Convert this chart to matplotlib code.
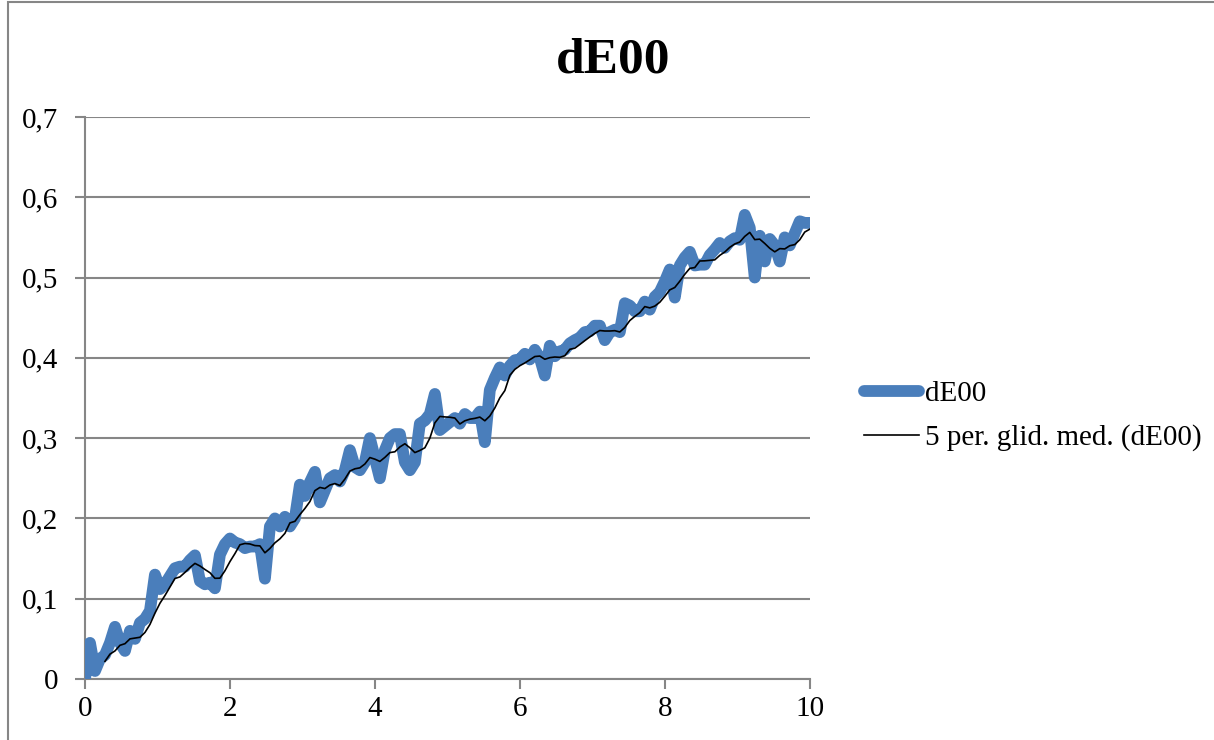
import numpy as np
import pandas as pd
import matplotlib
matplotlib.use("Agg")
import matplotlib.pyplot as plt
from matplotlib.patches import Rectangle

# -------------------------------------------
# data (x step ~0.069, 146 points)
# -------------------------------------------
n_points = 146
x_step = 10 / (n_points - 1)

de00 = [
    0.000, 0.045, 0.010, 0.025, 0.030, 0.045, 0.065, 0.045, 0.035, 0.060,
    0.050, 0.070, 0.075, 0.085, 0.130, 0.112, 0.118, 0.128, 0.138, 0.140,
    0.140, 0.148, 0.154, 0.122, 0.118, 0.120, 0.113, 0.155, 0.168, 0.175,
    0.170, 0.168, 0.163, 0.165, 0.165, 0.168, 0.125, 0.190, 0.200, 0.190,
    0.202, 0.190, 0.200, 0.242, 0.228, 0.245, 0.258, 0.220, 0.235, 0.250,
    0.254, 0.246, 0.260, 0.285, 0.264, 0.260, 0.270, 0.300, 0.275, 0.250,
    0.285, 0.300, 0.305, 0.305, 0.270, 0.260, 0.270, 0.318, 0.322, 0.330,
    0.355, 0.310, 0.315, 0.320, 0.325, 0.318, 0.330, 0.325, 0.325, 0.333,
    0.295, 0.360, 0.375, 0.388, 0.378, 0.390, 0.397, 0.398, 0.405, 0.398,
    0.410, 0.400, 0.378, 0.415, 0.402, 0.408, 0.410, 0.418, 0.422, 0.425,
    0.432, 0.433, 0.440, 0.440, 0.422, 0.432, 0.435, 0.432, 0.468, 0.465,
    0.458, 0.458, 0.470, 0.460, 0.476, 0.482, 0.495, 0.510, 0.475, 0.515,
    0.525, 0.532, 0.515, 0.516, 0.516, 0.528, 0.535, 0.543, 0.537, 0.545,
    0.549, 0.547, 0.578, 0.562, 0.500, 0.552, 0.520, 0.548, 0.540, 0.520,
    0.550, 0.540, 0.555, 0.570, 0.568, 0.568,
]

x_ticks = [0, 2, 4, 6, 8, 10]
y_ticks = [0, 0.1, 0.2, 0.3, 0.4, 0.5, 0.6, 0.7]
y_tick_labels = ["0", "0,1", "0,2", "0,3", "0,4", "0,5", "0,6", "0,7"]

series_name = "dE00"
ma_name = "5 per. glid. med. (dE00)"

# -------------------------------------------
# dataframe + 5 period moving average (like the Excel trendline)
# -------------------------------------------
df = pd.DataFrame({"x": np.arange(n_points) * x_step, "de00": de00})
df["ma5"] = df["de00"].rolling(5).mean()

plt.rcParams["font.family"] = ["Liberation Serif", "DejaVu Serif"]

fig = plt.figure(figsize=(12.14, 7.40), dpi=100)
ax = fig.add_axes([0.070, 0.0824, 0.597, 0.7596])

grid_col = "#868686"
ax.set_axisbelow(True)
ax.yaxis.grid(True, color=grid_col, linewidth=1.5)

ax.plot(df["x"], df["de00"], color="#4A7EBB", linewidth=8.5,
        solid_joinstyle="round", solid_capstyle="round", label=series_name,
        zorder=3)
ax.plot(df["x"], df["ma5"], color="black", linewidth=1.2, label=ma_name,
        zorder=4)

ax.set_xlim(0, 10)
ax.set_ylim(0, 0.7)
ax.set_xticks(x_ticks)
ax.set_xticklabels([str(v) for v in x_ticks])
ax.set_yticks(y_ticks)
ax.set_yticklabels(y_tick_labels)

for side in ["top", "right"]:
    ax.spines[side].set_visible(False)
for side in ["left", "bottom"]:
    ax.spines[side].set_color(grid_col)
    ax.spines[side].set_linewidth(1.5)

ax.tick_params(axis="both", colors=grid_col, labelcolor="black",
               labelsize=21, length=7, width=1.5, direction="out")
ax.tick_params(axis="y", pad=12)
ax.tick_params(axis="x", pad=5)

fig.text(0.505, 0.918, "dE00", ha="center", va="center",
         fontsize=37, fontweight="bold")

fig.legend(loc="center left", bbox_to_anchor=(0.69, 0.438), frameon=False,
           fontsize=21, handlelength=1.9, handletextpad=0.2,
           labelspacing=0.6)

# outer chart border
fig.patches.append(Rectangle((8 / 1214, -0.05), 1.1, 1.047,
                             transform=fig.transFigure, fill=False,
                             edgecolor=grid_col, linewidth=1.5))

fig.savefig("out.png", dpi=100)
